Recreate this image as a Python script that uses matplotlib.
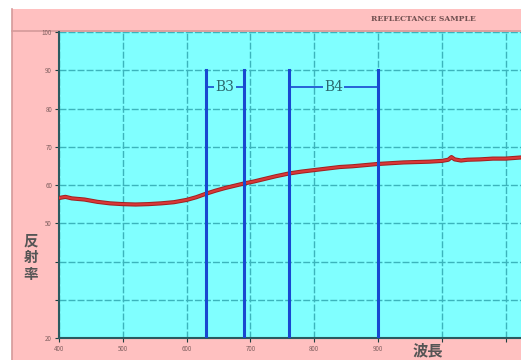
import numpy as np
import matplotlib.pyplot as plt
from matplotlib.patches import Rectangle
from matplotlib.lines import Line2D

plt.rcParams['font.family'] = ['Noto Sans CJK JP', 'DejaVu Sans']

# reflectance curve (nm, %)
wavelength = [400, 410, 420, 440, 460, 480, 500, 520, 540, 560, 580, 600, 615, 630, 645,
              660, 675, 690, 705, 720, 740, 760, 780, 800, 820, 840, 860, 880, 900,
              920, 940, 960, 980, 1000, 1010, 1015, 1020, 1030, 1040, 1060, 1080, 1100, 1124]
reflectance = [56.6, 56.9, 56.5, 56.2, 55.6, 55.2, 55.0, 54.9, 55.0, 55.2, 55.5, 56.1, 56.8, 57.7, 58.5,
               59.2, 59.8, 60.4, 60.9, 61.5, 62.3, 63.0, 63.5, 63.9, 64.3, 64.7, 64.9, 65.2, 65.5,
               65.7, 65.9, 66.0, 66.1, 66.3, 66.6, 67.3, 66.7, 66.4, 66.6, 66.7, 66.9, 66.9, 67.2]

bands = ['B3', 'B4']
band_lo = [630, 760]
band_hi = [690, 900]

x_ticks = [400, 500, 600, 700, 800, 900, 1000, 1100]
x_labels = ['400', '500', '600', '700', '800', '900', '', '']
y_ticks = [20, 30, 40, 50, 60, 70, 80, 90, 100]
y_labels = ['20', '', '', '50', '60', '70', '80', '90', '100']

fig = plt.figure(figsize=(5.21, 3.6), dpi=100)
fig.patch.set_facecolor('white')
fig.patches.append(Rectangle((12 / 521, 0), 1, 351 / 360, transform=fig.transFigure,
                             facecolor='#ffc0c0', edgecolor='none', zorder=-2))
fig.lines.append(Line2D([12 / 521, 1], [329 / 360, 329 / 360], transform=fig.transFigure,
                        color='#d49a9a', lw=1.2, zorder=-1))
fig.lines.append(Line2D([12 / 521, 12 / 521], [0, 351 / 360], transform=fig.transFigure,
                        color='#d49a9a', lw=1.2, zorder=-1))

ax = fig.add_axes([59 / 521, 22 / 360, 1 - 59 / 521, 306 / 360])
ax.set_zorder(2)
ax.set_facecolor('#80ffff')
ax.plot(wavelength, reflectance, color='#a02020', lw=3.0, zorder=3)
ax.plot(wavelength, reflectance, color='#d83838', lw=1.6, zorder=3)

for name, lo, hi in zip(bands, band_lo, band_hi):
    ax.plot([lo, lo], [20, 90], color='#1848d0', lw=2.2, zorder=4)
    ax.plot([hi, hi], [20, 90], color='#1848d0', lw=2.2, zorder=4)
    mid = (lo + hi) / 2
    ax.plot([lo, hi], [85.5, 85.5], color='#1848d0', lw=1.2, zorder=4)
    ax.text(mid, 85.5, name, ha='center', va='center', fontsize=10, color='#2a6a70',
            family='DejaVu Serif', bbox=dict(facecolor='#80ffff', edgecolor='none', pad=1), zorder=5)

ax.set_xlim(400, 1124)
ax.set_ylim(20, 100)
ax.set_xticks(x_ticks)
ax.set_xticklabels(x_labels)
ax.set_yticks(y_ticks)
ax.set_yticklabels(y_labels)
ax.tick_params(labelsize=4.5, labelcolor='#806060', length=3, color='#204040', pad=2)
ax.grid(True, color='#3cb4bc', ls=(0, (5, 1.5)), lw=1.0)
for side in ['left', 'bottom']:
    ax.spines[side].set_color('#2a5a60')
    ax.spines[side].set_linewidth(1.5)
for side in ['top', 'right']:
    ax.spines[side].set_visible(False)

fig.text(31 / 521, 1 - 257 / 360, '反\n射\n率', ha='center', va='center', fontsize=10.5,
         color='#555555', linespacing=1.05, fontweight='bold')
fig.text(428 / 521, 1 - 350 / 360, '波長', ha='center', va='center', fontsize=11,
         color='#555555', fontweight='bold')
fig.text(423 / 521, 1 - 19 / 360, 'REFLECTANCE SAMPLE', ha='center', va='center', fontsize=5.5,
         color='#705050', family='DejaVu Serif', fontweight='bold')

fig.savefig('out.png', dpi=100)
